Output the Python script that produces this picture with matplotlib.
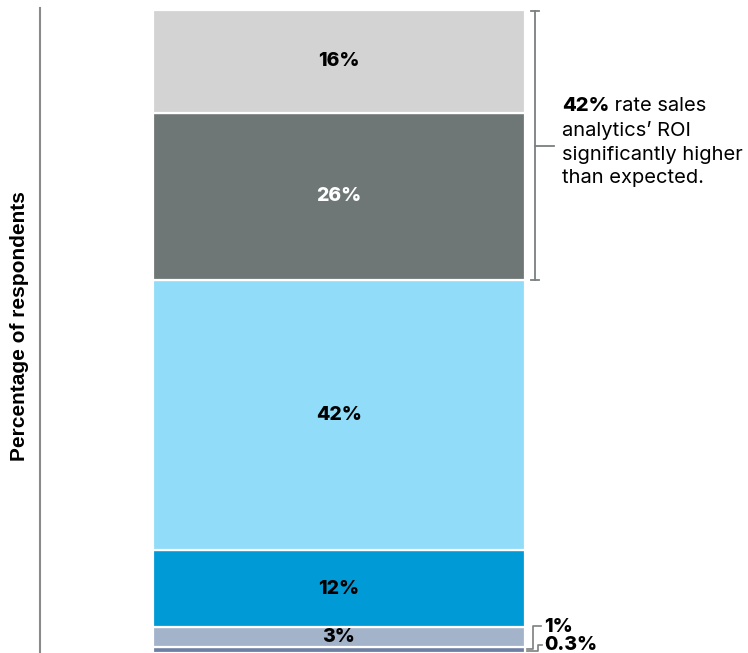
import matplotlib.pyplot as plt
import numpy as np

# данные: сегменты столбца снизу вверх
shares = [0.3, 1, 3, 12, 42, 26, 16]
labels = ["0.3%", "1%", "3%", "12%", "42%", "26%", "16%"]
colors = ["#4d5d82", "#6d7fa3", "#a3b3ca", "#009bd6", "#91dcf8", "#6e7676", "#d3d3d3"]
text_colors = ["black", "black", "black", "black", "black", "white", "black"]

ylabel = "Percentage of respondents"
note_bold = "42%"
note_first = " rate sales"
note_rest = "analytics\u2019 ROI\nsignificantly higher\nthan expected."

FONT = "Inter"
W, H = 748, 653
fig = plt.figure(figsize=(W / 100, H / 100), dpi=100)
# оси: от линии слева (x=40px) до правого края, сверху 8px
ax = fig.add_axes([40 / W, 0, 1 - 40 / W, 1 - 8 / H])

bottoms = np.concatenate([[0], np.cumsum(shares)[:-1]])
ax.bar(0, shares, bottom=bottoms, width=1, color=colors,
       edgecolor="white", linewidth=1.6)

# подписи внутри крупных сегментов
for val, b, lab, tc in zip(shares, bottoms, labels, text_colors):
    if val < 2:
        continue
    ax.text(0, b + val / 2, lab, ha="center", va="center", color=tc,
            fontsize=14, fontweight="heavy", family=FONT)

px = 1 / 372  # ширина столбца 372px = 1 единица
ax.set_xlim(-0.5 - 113 * px, -0.5 - 113 * px + 708 * px)
top = sum(shares)
ax.set_ylim(0.3, top + 2 / 6.43)

# скобка справа для двух верхних сегментов
gray = "#7a7f80"
y_hi, y_lo = top - 0.15, bottoms[5]
bx = 0.5 + 10 * px
ax.plot([bx, bx], [y_lo, y_hi], color=gray, lw=1.3, clip_on=False)
for yy in (y_lo, y_hi):
    ax.plot([bx - 4 * px, bx + 4 * px], [yy, yy], color=gray, lw=1.3, clip_on=False)
ym = (y_lo + y_hi) / 2
ax.plot([bx, bx + 19 * px], [ym, ym], color=gray, lw=1.3, clip_on=False)

tx = 0.5 + 37 * px
t1 = ax.text(tx, ym + 6.2, note_bold, ha="left", va="center",
             fontsize=14.5, fontweight="heavy", family=FONT)
ax.annotate(note_first, xy=(1, 0), xycoords=t1, va="bottom", ha="left",
            fontsize=14.5, family=FONT)
ax.text(tx, ym + 3.8, note_rest, ha="left", va="top", fontsize=14.5,
        family=FONT, linespacing=1.4)

# выноски для маленьких сегментов
lx0 = 0.5 + 2 * px
ax.plot([lx0, 0.5 + 8 * px, 0.5 + 8 * px, 0.5 + 16 * px],
        [bottoms[1] + 0.6, bottoms[1] + 0.6, 4.5, 4.5], color=gray, lw=1.2, clip_on=False)
ax.plot([lx0, 0.5 + 13 * px, 0.5 + 13 * px, 0.5 + 17 * px],
        [0.55, 0.55, 1.5, 1.5], color=gray, lw=1.2, clip_on=False)
ax.text(0.5 + 19 * px, 4.3, labels[1], ha="left", va="center",
        fontsize=14, fontweight="heavy", family=FONT)
ax.text(0.5 + 19 * px, 1.5, labels[0], ha="left", va="center",
        fontsize=14, fontweight="heavy", family=FONT)

for s in ("top", "right", "bottom"):
    ax.spines[s].set_visible(False)
ax.spines["left"].set_color("#8a8a8a")
ax.spines["left"].set_linewidth(1.5)
ax.set_xticks([])
ax.set_yticks([])

fig.text(20 / W, 1 - 326 / H, ylabel, rotation=90, ha="center", va="center",
         fontsize=15, fontweight="bold", family=["Liberation Sans", "DejaVu Sans"])

fig.savefig("out.png", dpi=100)
